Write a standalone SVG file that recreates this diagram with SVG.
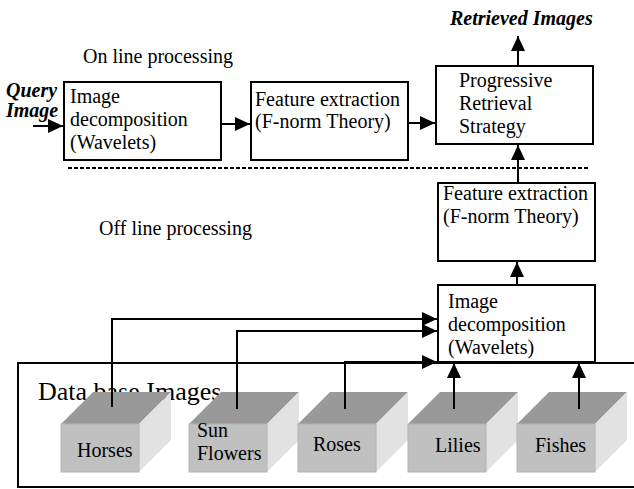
<svg xmlns="http://www.w3.org/2000/svg" width="634" height="489" viewBox="0 0 634 489">
<style>
.box{fill:#fff;stroke:#000;stroke-width:2}
.t{font-family:"Liberation Serif","Times New Roman",serif;font-size:20px;fill:#000}
.bi{font-weight:bold;font-style:italic}
.c{fill:none;stroke:#000;stroke-width:2;marker-end:url(#ah)}
.top{fill:#999999}
.front{fill:#c0c0c0;stroke:#b4b4b4;stroke-width:1}
.side{fill:#e2e2e2}
</style>
<defs>
<marker id="ah" markerUnits="userSpaceOnUse" markerWidth="16" markerHeight="14" refX="15" refY="7" orient="auto">
<path d="M0,0 L15,7 L0,14 z" fill="#000"/>
</marker>
</defs>
<text class="t" x="83" y="63">On line processing</text>
<text class="t" x="99" y="235">Off line processing</text>
<text class="t bi" x="450" y="25">Retrieved Images</text>
<text class="t bi" x="6" y="97">Query</text>
<text class="t bi" x="6" y="117">Image</text>
<line x1="68" y1="168" x2="590" y2="168" stroke="#000" stroke-width="2" stroke-dasharray="4,2"/>
<g id="db">
<rect x="18" y="363" width="630" height="124" fill="none" stroke="#000" stroke-width="2"/>
<text class="t" x="38" y="400" style="font-size:26px">Data base Images</text>
</g>
<g id="n1"><rect class="box" x="64" y="82" width="157" height="78"/>
<text class="t" x="70" y="103">Image</text><text class="t" x="70" y="126">decomposition</text><text class="t" x="70" y="149">(Wavelets)</text></g>
<g id="n2"><rect class="box" x="251" y="82" width="157" height="78"/>
<text class="t" x="255" y="106">Feature extraction</text><text class="t" x="255" y="128">(F-norm Theory)</text></g>
<g id="n3"><rect class="box" x="436" y="66" width="157" height="78"/>
<text class="t" x="459" y="87">Progressive</text><text class="t" x="459" y="110">Retrieval</text><text class="t" x="459" y="133">Strategy</text></g>
<g id="n4"><rect class="box" x="438" y="183" width="157" height="78"/>
<text class="t" x="443" y="200">Feature extraction</text><text class="t" x="443" y="223">(F-norm Theory)</text></g>
<g id="n5"><rect class="box" x="438" y="285" width="157" height="77"/>
<text class="t" x="448" y="308">Image</text><text class="t" x="448" y="331">decomposition</text><text class="t" x="448" y="354">(Wavelets)</text></g>
<g id="horses">
<polygon class="top" points="61,424 93,392 171,392 139,424"/>
<polygon class="side" points="139,424 171,392 171,440 139,472"/>
<rect class="front" x="61" y="424" width="78" height="48"/>
<text class="t" x="77" y="457">Horses</text></g>
<g id="sunflowers">
<polygon class="top" points="189,424 221,392 299,392 267,424"/>
<polygon class="side" points="267,424 299,392 299,440 267,472"/>
<rect class="front" x="189" y="424" width="78" height="48"/>
<text class="t" x="197" y="437">Sun</text><text class="t" x="197" y="460">Flowers</text></g>
<g id="roses">
<polygon class="top" points="298,424 330,392 408,392 376,424"/>
<polygon class="side" points="376,424 408,392 408,440 376,472"/>
<rect class="front" x="298" y="424" width="78" height="48"/>
<text class="t" x="313" y="451">Roses</text></g>
<g id="lilies">
<polygon class="top" points="408,424 440,392 518,392 486,424"/>
<polygon class="side" points="486,424 518,392 518,440 486,472"/>
<rect class="front" x="408" y="424" width="78" height="48"/>
<text class="t" x="435" y="452">Lilies</text></g>
<g id="fishes">
<polygon class="top" points="517,424 549,392 627,392 595,424"/>
<polygon class="side" points="595,424 627,392 627,440 595,472"/>
<rect class="front" x="517" y="424" width="78" height="48"/>
<text class="t" x="535" y="452">Fishes</text></g>
<g id="connectors">
<path class="c" d="M33,126 H63"/>
<path class="c" d="M221,124 H250"/>
<path class="c" d="M408,123 H435"/>
<path class="c" d="M518,66 V36"/>
<path class="c" d="M518,183 V145"/>
<path class="c" d="M517,285 V262"/>
<path class="c" d="M112,407 V319 H437"/>
<path class="c" d="M237,409 V331 H437"/>
<path class="c" d="M345,409 V362 H437"/>
<path class="c" d="M454,409 V363"/>
<path class="c" d="M579,409 V363"/>
</g>
</svg>
